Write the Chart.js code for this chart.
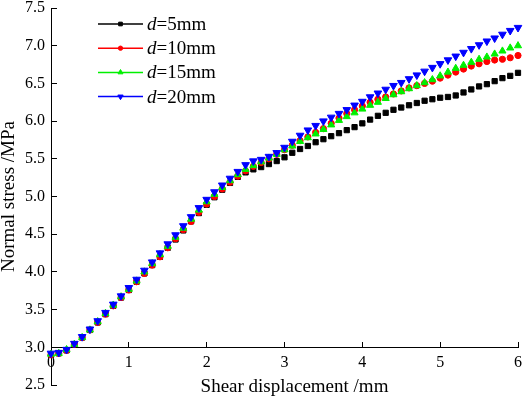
<!DOCTYPE html>
<html>
<head>
<meta charset="utf-8">
<script src="https://cdn.jsdelivr.net/npm/chart.js@4/dist/chart.umd.min.js"></script>
<style>
  html, body { margin: 0; padding: 0; background: #fff; }
  #wrap { width: 526px; height: 397px; }
</style>
</head>
<body>
<div id="wrap"><canvas id="chart" width="526" height="397"></canvas></div>
<script>
const X_TITLE = "Shear displacement /mm";
const Y_TITLE = "Normal stress /MPa";
const SERIES_LABELS = ["5mm", "10mm", "15mm", "20mm"];
const SERIES_COLORS = ["#000000", "#ff0000", "#00f000", "#0000ff"];

// shear displacement (mm), one marker every 0.1 mm
const X_VALUES = [
  0.0, 0.1, 0.2, 0.3, 0.4, 0.5, 0.6, 0.7, 0.8, 0.9,
  1.0, 1.1, 1.2, 1.3, 1.4, 1.5, 1.6, 1.7, 1.8, 1.9,
  2.0, 2.1, 2.2, 2.3, 2.4, 2.5, 2.6, 2.7, 2.8, 2.9,
  3.0, 3.1, 3.2, 3.3, 3.4, 3.5, 3.6, 3.7, 3.8, 3.9,
  4.0, 4.1, 4.2, 4.3, 4.4, 4.5, 4.6, 4.7, 4.8, 4.9,
  5.0, 5.1, 5.2, 5.3, 5.4, 5.5, 5.6, 5.7, 5.8, 5.9,
  6.0,
];

// normal stress (MPa)
const D5 = [
  2.90, 2.92, 2.96, 3.04, 3.13, 3.23, 3.33, 3.44, 3.55, 3.66,
  3.76, 3.87, 3.98, 4.09, 4.20, 4.32, 4.43, 4.55, 4.67, 4.78,
  4.89, 4.99, 5.09, 5.18, 5.26, 5.32, 5.36, 5.39, 5.43, 5.47,
  5.52, 5.58, 5.63, 5.67, 5.72, 5.76, 5.80, 5.84, 5.88, 5.92,
  5.97, 6.02, 6.07, 6.11, 6.15, 6.18, 6.21, 6.24, 6.27, 6.29,
  6.31, 6.32, 6.34, 6.38, 6.42, 6.46, 6.49, 6.53, 6.57, 6.60,
  6.64,
];
const D10 = [
  2.90, 2.92, 2.96, 3.04, 3.13, 3.23, 3.33, 3.44, 3.55, 3.66,
  3.76, 3.87, 3.98, 4.09, 4.20, 4.32, 4.44, 4.56, 4.67, 4.79,
  4.90, 5.00, 5.10, 5.19, 5.27, 5.34, 5.40, 5.45, 5.50, 5.56,
  5.62, 5.68, 5.74, 5.79, 5.85, 5.90, 5.97, 6.04, 6.10, 6.15,
  6.20, 6.25, 6.29, 6.32, 6.36, 6.40, 6.44, 6.47, 6.50, 6.53,
  6.57, 6.61, 6.65, 6.69, 6.73, 6.76, 6.79, 6.81, 6.82, 6.84,
  6.87,
];
const D15 = [
  2.91, 2.92, 2.97, 3.04, 3.13, 3.23, 3.34, 3.45, 3.56, 3.67,
  3.77, 3.88, 4.00, 4.11, 4.23, 4.34, 4.46, 4.58, 4.70, 4.82,
  4.93, 5.03, 5.12, 5.21, 5.29, 5.36, 5.41, 5.46, 5.51, 5.56,
  5.62, 5.67, 5.73, 5.78, 5.83, 5.89, 5.95, 6.01, 6.06, 6.11,
  6.16, 6.21, 6.25, 6.30, 6.35, 6.39, 6.43, 6.47, 6.51, 6.55,
  6.60, 6.65, 6.70, 6.74, 6.78, 6.82, 6.85, 6.89, 6.93, 6.97,
  7.00,
];
const D20 = [
  2.92, 2.93, 2.97, 3.05, 3.14, 3.24, 3.35, 3.46, 3.57, 3.68,
  3.79, 3.90, 4.02, 4.13, 4.25, 4.37, 4.49, 4.61, 4.73, 4.85,
  4.96, 5.06, 5.15, 5.24, 5.33, 5.42, 5.47, 5.49, 5.53, 5.58,
  5.65, 5.73, 5.81, 5.88, 5.94, 6.00, 6.05, 6.10, 6.15, 6.21,
  6.26, 6.32, 6.37, 6.42, 6.47, 6.51, 6.56, 6.61, 6.66, 6.71,
  6.76, 6.81, 6.86, 6.91, 6.96, 7.01, 7.06, 7.10, 7.15, 7.20,
  7.24,
];

const X_TICKS = [0, 1, 2, 3, 4, 5, 6];
const Y_TICKS = [2.5, 3.0, 3.5, 4.0, 4.5, 5.0, 5.5, 6.0, 6.5, 7.0, 7.5];

const SERIES = [D5, D10, D15, D20];
const MARKERS = [
  { pointStyle: "rect", radius: 3.7, rotation: 0 },
  { pointStyle: "circle", radius: 3.1, rotation: 0 },
  { pointStyle: "triangle", radius: 4.1, rotation: 0 },
  { pointStyle: "triangle", radius: 4.4, rotation: 180 },
];

Chart.defaults.font.family = "'Liberation Serif', 'Times New Roman', serif";
Chart.defaults.color = "#000";

function toPoints(values) {
  return values.map((y, i) => ({ x: X_VALUES[i], y }));
}

function drawMarker(ctx, marker, color, x, y, scale) {
  ctx.fillStyle = color;
  ctx.strokeStyle = color;
  ctx.lineWidth = 1;
  const opts = {
    pointStyle: marker.pointStyle,
    radius: marker.radius * scale,
    rotation: marker.rotation,
    borderWidth: 1,
  };
  if (Chart.helpers && Chart.helpers.drawPoint) {
    Chart.helpers.drawPoint(ctx, opts, x, y);
  }
}

// legend with italic "d"
const legendPlugin = {
  id: "dLegend",
  afterDatasetsDraw(chart) {
    const { ctx, chartArea } = chart;
    ctx.save();
    SERIES_LABELS.forEach((label, i) => {
      const color = SERIES_COLORS[i];
      const y = chartArea.top + 16 + i * 24.2;
      const x0 = chartArea.left + 47;
      ctx.strokeStyle = color;
      ctx.lineWidth = 1.5;
      ctx.beginPath();
      ctx.moveTo(x0, y);
      ctx.lineTo(x0 + 45, y);
      ctx.stroke();
      drawMarker(ctx, MARKERS[i], color, x0 + 22.5, y, 0.7);

      ctx.fillStyle = "#000";
      ctx.textAlign = "left";
      ctx.textBaseline = "alphabetic";
      ctx.font = "italic 19px 'Liberation Serif'";
      ctx.fillText("d", x0 + 49, y + 6);
      const w = ctx.measureText("d").width;
      ctx.font = "19px 'Liberation Serif'";
      ctx.fillText("=" + label, x0 + 49 + w, y + 6);
    });
    ctx.restore();
  },
};

const xTitlePlugin = {
  id: "xTitle",
  afterDraw(chart) {
    const { ctx, chartArea } = chart;
    ctx.save();
    ctx.fillStyle = "#000";
    ctx.font = "19px 'Liberation Serif'";
    ctx.textAlign = "center";
    ctx.textBaseline = "alphabetic";
    ctx.fillText(X_TITLE, (chartArea.left + chartArea.right) / 2 + 10, chartArea.bottom + 7);
    ctx.restore();
  },
};

const ORDER = [3, 2, 1, 0]; // blue drawn on top

new Chart(document.getElementById("chart"), {
  type: "scatter",
  data: {
    datasets: SERIES.map((values, i) => ({
      label: SERIES_LABELS[i],
      data: toPoints(values),
      showLine: false,
      borderColor: SERIES_COLORS[i],
      backgroundColor: SERIES_COLORS[i],
      pointStyle: MARKERS[i].pointStyle,
      pointRadius: MARKERS[i].radius,
      pointRotation: MARKERS[i].rotation,
      pointBorderWidth: 1,
      pointHoverRadius: MARKERS[i].radius,
      order: ORDER[i],
      clip: false,
    })),
  },
  options: {
    responsive: false,
    animation: false,
    layout: { autoPadding: false, padding: { top: 8, right: 8, bottom: 12, left: 0 } },
    plugins: {
      legend: { display: false },
      tooltip: { enabled: false },
    },
    scales: {
      x: {
        type: "linear",
        position: { y: 3.0 },
        min: 0,
        max: 6,
        afterBuildTicks: (scale) => {
          scale.ticks = X_TICKS.map((value) => ({ value }));
        },
        afterFit: (scale) => {
          scale.height = 0;
          scale.paddingLeft = 0;
          scale.paddingRight = 0;
        },
        ticks: {
          padding: 12,
          font: { size: 16, lineHeight: 1.2 },
          callback: (v) => String(v),
        },
        grid: {
          drawOnChartArea: false,
          drawTicks: true,
          tickLength: -6,
          color: "#000",
        },
        border: { display: true, color: "#000", width: 1 },
      },
      y: {
        type: "linear",
        min: 2.5,
        max: 7.5,
        afterBuildTicks: (scale) => {
          scale.ticks = Y_TICKS.map((value) => ({ value }));
        },
        afterFit: (scale) => {
          scale.width = 51;
          scale.paddingTop = 0;
          scale.paddingBottom = 0;
        },
        ticks: {
          padding: 12,
          font: { size: 16, lineHeight: 1 },
          callback: (v) => Number(v).toFixed(1),
        },
        grid: {
          drawOnChartArea: false,
          drawTicks: true,
          tickLength: -6,
          color: "#000",
        },
        border: { display: true, color: "#000", width: 1 },
        title: {
          display: true,
          text: Y_TITLE,
          font: { size: 19 },
          padding: { top: -2, bottom: 0 },
        },
      },
    },
  },
  plugins: [legendPlugin, xTitlePlugin],
});
</script>
</body>
</html>
